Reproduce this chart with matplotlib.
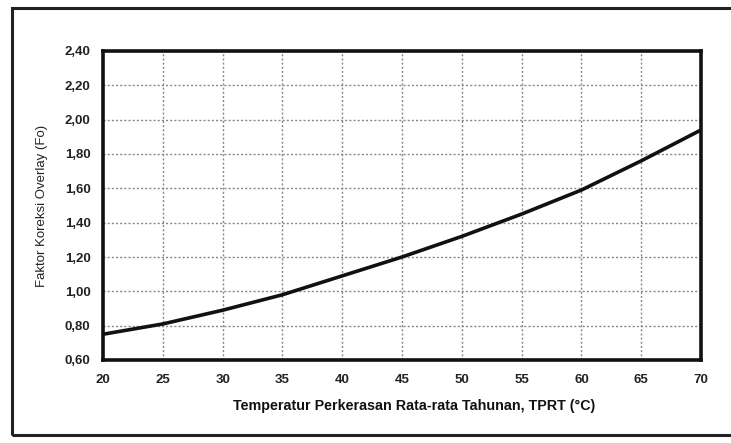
import matplotlib.pyplot as plt
from matplotlib.patches import Rectangle

# Data
temp_c = [20, 25, 30, 35, 40, 45, 50, 55, 60, 65, 70]
faktor_fo = [0.75, 0.81, 0.89, 0.98, 1.09, 1.20, 1.32, 1.45, 1.59, 1.76, 1.94]

x_ticks = [20, 25, 30, 35, 40, 45, 50, 55, 60, 65, 70]
y_ticks = [0.60, 0.80, 1.00, 1.20, 1.40, 1.60, 1.80, 2.00, 2.20, 2.40]
y_tick_labels = [f"{v:.2f}".replace(".", ",") for v in y_ticks]

plt.rcParams['font.family'] = ['Liberation Sans', 'DejaVu Sans']

fig = plt.figure(figsize=(7.31, 4.43), dpi=100)
ax = fig.add_axes([103 / 731, 1 - 360 / 443, 598 / 731, 309 / 443])

# outer frame round the whole figure (right side runs off the picture)
fig.patches.append(Rectangle((12 / 731, 1 - 435 / 443), 1.2, 427 / 443,
                             transform=fig.transFigure, fill=False,
                             edgecolor='#222222', linewidth=2.2))

ax.plot(temp_c, faktor_fo, color='#111111', linewidth=2.6, solid_capstyle='butt')

ax.set_xlim(20, 70)
ax.set_ylim(0.60, 2.40)
ax.set_xticks(x_ticks)
ax.set_yticks(y_ticks)
ax.set_yticklabels(y_tick_labels)
ax.tick_params(length=0, labelsize=9.5, colors='#222222')
ax.tick_params(axis='x', pad=10)
ax.tick_params(axis='y', pad=9)
for lab in ax.get_xticklabels() + ax.get_yticklabels():
    lab.set_fontweight('bold')

ax.grid(True, color='#888888', linestyle=(0, (1.5, 1.5)), linewidth=1.0)
for s in ax.spines.values():
    s.set_linewidth(2.6)
    s.set_color('#111111')

ax.set_xlabel('Temperatur Perkerasan Rata-rata Tahunan, TPRT (\u00b0C)',
              fontsize=10.3, fontweight='bold', color='#111111')
ax.xaxis.set_label_coords(0.52, -0.125)
ax.set_ylabel('Faktor Koreksi Overlay (Fo)', fontsize=9.5, labelpad=12, color='#222222')

fig.savefig('out.png', dpi=100)
